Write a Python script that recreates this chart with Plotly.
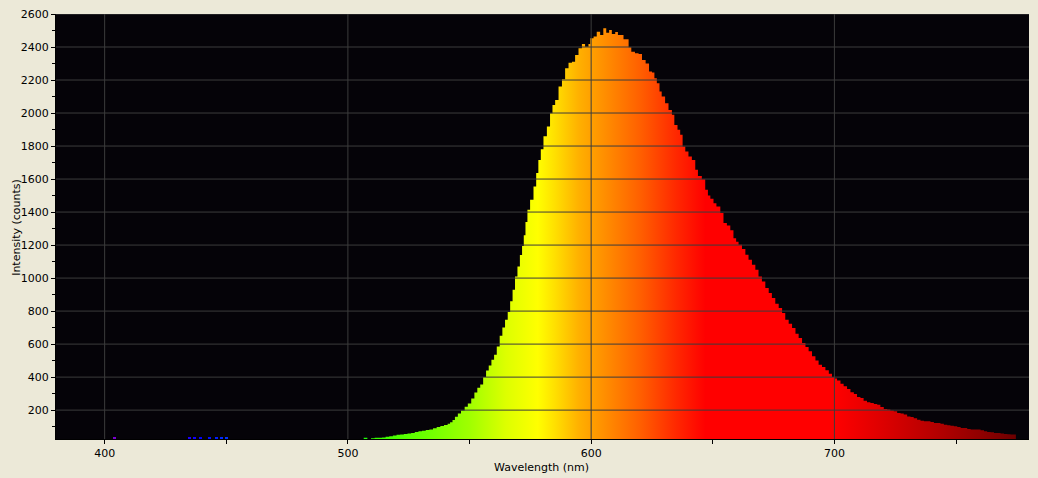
import plotly.graph_objects as go

# Spectrum readings (wavelength nm, intensity counts)
wavelength_nm = [
    506.5, 508.0, 509.5, 511.0, 512.5, 514.0, 515.5, 517.0, 518.5, 520.0,
    521.5, 523.0, 524.5, 526.0, 527.5, 529.0, 530.5, 532.0, 533.5, 535.0,
    536.5, 538.0, 539.5, 541.0, 542.0, 543.0, 544.0, 545.2, 546.5, 548.0,
    549.3, 550.7, 552.0, 553.2, 554.4, 555.6, 556.8, 557.9, 559.0, 560.1,
    561.2, 562.4, 563.5, 564.6, 565.7, 566.7, 567.7, 568.7, 569.7, 570.7,
    571.6, 572.3, 573.0, 573.8, 574.9, 576.3, 577.4, 578.3, 579.3, 580.4,
    581.8, 583.1, 584.1, 585.2, 586.6, 588.0, 589.3, 590.7, 592.1, 593.4,
    594.8, 596.2, 597.5, 598.9, 599.6, 601.0, 602.3, 603.7, 605.0, 606.2,
    607.4, 608.5, 609.9, 611.0, 612.0, 613.3, 614.7, 615.4, 616.5, 618.0,
    619.5, 620.9, 622.4, 623.8, 625.0, 626.0, 627.0, 628.1, 629.0, 630.4,
    631.8, 633.2, 634.2, 635.5, 636.6, 637.6, 638.7, 640.0, 641.4, 642.8,
    643.9, 645.5, 646.9, 648.0, 649.0, 650.3, 651.5, 653.1, 654.4, 655.8,
    657.2, 658.5, 659.6, 660.6, 662.0, 663.4, 664.7, 666.1, 667.5, 668.8,
    670.2, 671.6, 673.0, 674.3, 675.7, 677.1, 678.5, 679.8, 681.2, 682.6,
    684.0, 685.3, 686.7, 688.1, 689.4, 690.8, 692.2, 693.5, 694.9, 696.3,
    697.7, 699.0, 700.3, 701.1, 702.5, 703.8, 705.2, 706.6, 708.0, 709.3,
    710.7, 712.0, 713.4, 714.8, 716.2, 717.6, 718.9, 720.3, 721.7, 723.0,
    724.4, 725.8, 727.2, 728.5, 729.9, 731.3, 732.6, 734.0, 735.4, 736.8,
    738.1, 739.5, 740.9, 742.3, 743.6, 745.0, 746.4, 747.7, 749.1, 750.5,
    751.9, 753.2, 754.6, 756.0, 757.3, 758.7, 760.1, 761.5, 762.8, 764.2,
    765.6, 767.0, 768.3, 769.7, 771.1, 772.4, 773.8, 774.6,
]
intensity_counts = [
    33, 25, 30, 32, 33, 34, 38, 42, 46, 50,
    52, 55, 58, 62, 68, 72, 75, 80, 82, 90,
    98, 104, 110, 118, 126, 140, 160, 180, 197, 221,
    240, 270, 306, 336, 355, 400, 440, 470, 505, 535,
    586, 650, 700, 748, 795, 860, 930, 1010, 1070, 1140,
    1195, 1260, 1340, 1414, 1474, 1555, 1636, 1716, 1780, 1860,
    1918, 1999, 2049, 2079, 2160, 2205, 2271, 2305, 2311, 2352,
    2392, 2418, 2402, 2418, 2453, 2463, 2493, 2473, 2513, 2487,
    2503, 2479, 2491, 2473, 2473, 2447, 2447, 2398, 2372, 2362,
    2357, 2321, 2300, 2251, 2245, 2210, 2180, 2130, 2100, 2059,
    2019, 1989, 1928, 1898, 1868, 1797, 1767, 1736, 1716, 1656,
    1619, 1599, 1535, 1500, 1480, 1454, 1434, 1394, 1333, 1318,
    1290, 1242, 1220, 1202, 1176, 1141, 1111, 1081, 1050, 1010,
    980, 940, 909, 879, 845, 818, 788, 748, 724, 697,
    663, 637, 607, 582, 556, 526, 501, 475, 461, 441,
    421, 401, 392, 380, 360, 344, 328, 308, 298, 280,
    274, 257, 247, 243, 237, 233, 219, 207, 203, 197,
    193, 183, 179, 173, 162, 159, 150, 142, 136, 132,
    132, 128, 122, 122, 118, 112, 108, 106, 102, 98,
    92, 92, 86, 82, 82, 82, 78, 72, 68, 66,
    62, 62, 58, 56, 54, 52, 52, 52,
]

# Small violet/blue readings in the short-wavelength region
blue_nm = [404.0, 435.0, 437.0, 439.5, 443.0, 446.0, 448.0, 450.0]
blue_counts = [36, 36, 36, 36, 37, 37, 37, 37]

x_ticks = [400, 500, 600, 700]
y_ticks = [200, 400, 600, 800, 1000, 1200, 1400, 1600, 1800, 2000, 2200, 2400, 2600]

X_RANGE = [380, 780]
Y_RANGE = [25, 2600]

spectrum_scale = [
    [0.0, "#610061"], [0.06, "#7a00d0"], [0.10, "#6a00ff"], [0.15, "#0000ff"],
    [0.275, "#00ffff"], [0.3125, "#10ff10"], [0.325, "#33ff00"], [0.375, "#66ff00"],
    [0.425, "#a0ff00"], [0.4625, "#ddff00"], [0.495, "#ffff00"], [0.5125, "#ffe000"],
    [0.5375, "#ffb000"], [0.5625, "#ff9000"], [0.60, "#ff6000"], [0.6375, "#ff2800"],
    [0.6675, "#ff0000"], [0.80, "#ff0000"], [0.85, "#dd0000"], [0.90, "#b80000"],
    [0.95, "#900000"], [1.0, "#600000"],
]

fig = go.Figure()

fig.add_trace(go.Scatter(
    x=wavelength_nm, y=intensity_counts,
    mode="lines", line=dict(width=0, shape="hv", color="rgba(0,0,0,0)"),
    fill="tozeroy",
    fillgradient=dict(type="horizontal", colorscale=spectrum_scale,
                      start=X_RANGE[0], stop=X_RANGE[1]),
    hoverinfo="skip", showlegend=False,
))

fig.add_trace(go.Bar(
    x=blue_nm, y=blue_counts, width=1.2,
    marker=dict(color=blue_nm, colorscale=spectrum_scale,
                cmin=X_RANGE[0], cmax=X_RANGE[1], line=dict(width=0)),
    showlegend=False, hoverinfo="skip",
))

grid_color = "#3c3c3c"
for xv in x_ticks:
    fig.add_shape(type="line", xref="x", yref="paper", x0=xv, x1=xv, y0=0, y1=1,
                  line=dict(color=grid_color, width=1), layer="above")
for yv in y_ticks:
    fig.add_shape(type="line", xref="paper", yref="y", x0=0, x1=1, y0=yv, y1=yv,
                  line=dict(color=grid_color, width=1), layer="above")

font = dict(family="DejaVu Sans", size=11, color="#000000")

fig.add_annotation(text="Wavelength (nm)", xref="paper", yref="paper",
                   x=0.499, y=-0.066, xanchor="center", yanchor="middle",
                   showarrow=False, font=font)
fig.add_annotation(text="Intensity (counts)", xref="paper", yref="paper",
                   x=-0.040, y=0.497, xanchor="center", yanchor="middle",
                   textangle=-90, showarrow=False, font=font)

fig.update_layout(
    width=1038, height=478,
    margin=dict(l=56, r=9, t=14, b=39, autoexpand=False),
    paper_bgcolor="#ECE9D8", plot_bgcolor="#050308",
    font=font, bargap=0,
    xaxis=dict(
        range=X_RANGE, tickvals=x_ticks, ticktext=[str(v) for v in x_ticks],
        showgrid=False, zeroline=False, automargin=False,
        showline=True, linecolor="#000000", linewidth=1,
        ticks="outside", ticklen=4, tickcolor="#000000",
        minor=dict(dtick=50, tick0=0, ticks="outside", ticklen=4, tickcolor="#000000", showgrid=False),
        tickfont=font,
    ),
    yaxis=dict(
        range=Y_RANGE, tickvals=y_ticks, ticktext=[str(v) for v in y_ticks],
        showgrid=False, zeroline=False, automargin=False,
        showline=True, linecolor="#000000", linewidth=1,
        ticks="outside", ticklen=4, tickcolor="#000000",
        minor=dict(dtick=100, tick0=0, ticks="outside", ticklen=3, tickcolor="#000000", showgrid=False),
        tickfont=font,
    ),
)

fig.write_html(
    "out.html",
    config={"displayModeBar": False},
    post_script="document.body.style.margin='0';document.body.style.padding='0';"
                "document.body.style.overflow='hidden';document.body.style.background='#ECE9D8';",
)
